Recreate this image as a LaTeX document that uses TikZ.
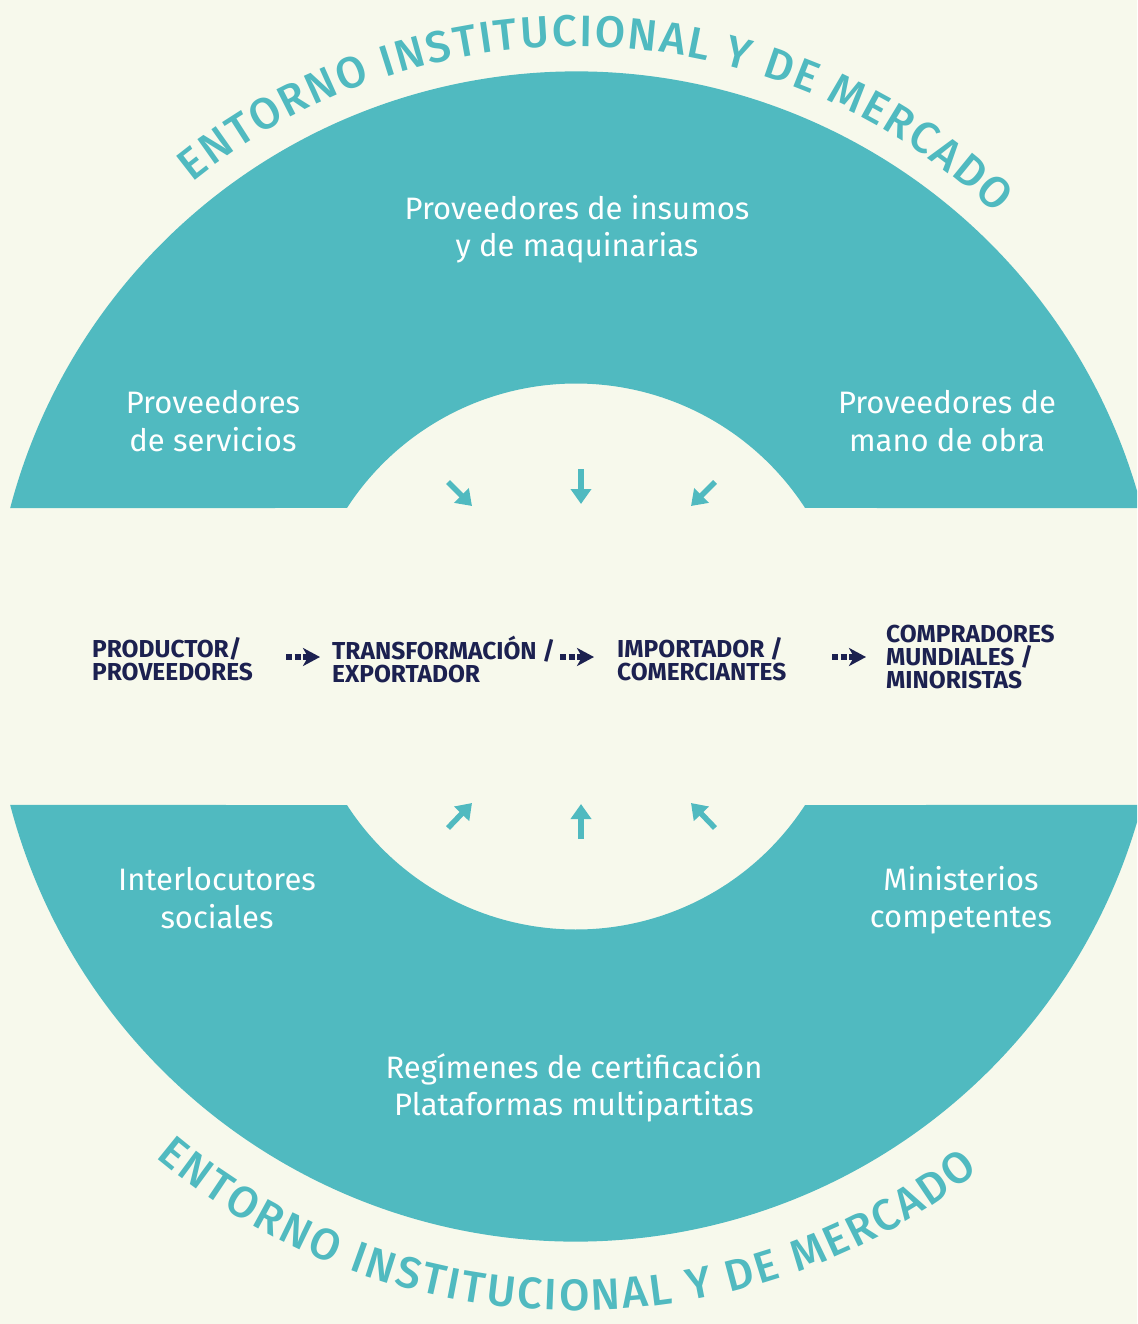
\documentclass[tikz,border=0pt]{standalone}
\usepackage{fontspec}
\setmainfont{Fira Sans}
\IfFontExistsTF{Fira Sans Medium}{\newfontfamily\ringfont{Fira Sans Medium}}{\newfontfamily\ringfont[FakeBold=1.2]{Fira Sans}}
\usetikzlibrary{arrows.meta, decorations.text, calc}
\definecolor{cream}{HTML}{F7F9EC}
\definecolor{lagoon}{HTML}{50BAC0}
\definecolor{ink}{HTML}{1C2150}

\begin{document}
\begin{tikzpicture}[x=1pt, y=1pt,
    sector/.style={fill=lagoon},
    actor/.style={text=white, align=center, inner sep=0pt, font=\fontsize{31}{37.5}\selectfont},
    stage/.style={text=ink, align=left, anchor=west, inner sep=0pt, font=\bfseries\fontsize{24.5}{23}\selectfont},
    flow/.style={ink, line width=5.5pt, dash pattern=on 6pt off 2.5pt, -{Stealth[length=17pt, width=18pt, inset=5pt]}},
    pull/.style={lagoon, line width=5.5pt, -{Triangle[length=15pt, width=20pt]}},
    ring/.style={decorate, decoration={text along path, text color=lagoon, text align={fit to path},
      text={|\ringfont\fontsize{44}{44}\selectfont|ENTORNO INSTITUCIONAL Y DE MERCADO}}}]
      \useasboundingbox (0,0) rectangle (1137,-1324);
      \clip (0,0) rectangle (1137,-1324);
      \fill[cream] (0,0) rectangle (1137,-1324);
      \coordinate (C) at (576,-656.5);
      \fill[sector] ($(C)+(14.7:585)$) arc[start angle=14.7, end angle=165.3, radius=585] -- ($(C)+(147.04:273)$) arc[start angle=147.04, end angle=32.96, radius=273] -- cycle;
      \fill[sector] ($(C)+(194.7:585)$) arc[start angle=194.7, end angle=345.3, radius=585] -- ($(C)+(327.04:273)$) arc[start angle=327.04, end angle=212.96, radius=273] -- cycle;
      \path[ring] ($(C)+(129:610)$) arc[start angle=129, end angle=46.5, radius=610];
      \path[ring] ($(C)+(230:654)$) arc[start angle=230, end angle=308, radius=654];
      \node[actor] (insumos) at (577,-229) {Proveedores de insumos\\y de maquinarias};
      \node[actor] (servicios) at (213,-421) {Proveedores\\de servicios};
      \node[actor] (obra) at (947,-421) {Proveedores de\\mano de obra};
      \node[actor] (sociales) at (217,-898) {Interlocutores\\sociales};
      \node[actor] (ministerios) at (961,-900) {Ministerios\\competentes};
      \node[actor] (regimenes) at (574,-1088) {Regímenes de certificación\\Plataformas multipartitas};
      \node[stage] (productor) at (92,-659) {PRODUCTOR/\\PROVEEDORES};
      \node[stage] (transformacion) at (332,-659) {TRANSFORMACIÓN /\\EXPORTADOR};
      \node[stage] (importador) at (617,-659) {IMPORTADOR /\\COMERCIANTES};
      \node[stage] (compradores) at (886,-657) {COMPRADORES\\MUNDIALES /\\MINORISTAS};
      \coordinate (f1) at (286,-657); \coordinate (t1) at (320,-657);
      \coordinate (f2) at (560,-657); \coordinate (t2) at (594,-657);
      \coordinate (f3) at (832,-657); \coordinate (t3) at (866,-657);
      \draw[flow] (f1) -- (t1);
      \draw[flow] (f2) -- (t2);
      \draw[flow] (f3) -- (t3);
      \coordinate (nw) at (448,-482); \coordinate (nwtip) at (472,-506);
      \coordinate (n) at (581,-469); \coordinate (ntip) at (581,-504);
      \coordinate (ne) at (715,-482); \coordinate (netip) at (691,-506);
      \coordinate (sw) at (448,-828); \coordinate (swtip) at (472,-803);
      \coordinate (s) at (581,-839); \coordinate (stip) at (581,-804);
      \coordinate (se) at (715,-828); \coordinate (setip) at (691,-803);
      \draw[pull] (nw) -- (nwtip);
      \draw[pull] (n) -- (ntip);
      \draw[pull] (ne) -- (netip);
      \draw[pull] (sw) -- (swtip);
      \draw[pull] (s) -- (stip);
      \draw[pull] (se) -- (setip);
\end{tikzpicture}
\end{document}
